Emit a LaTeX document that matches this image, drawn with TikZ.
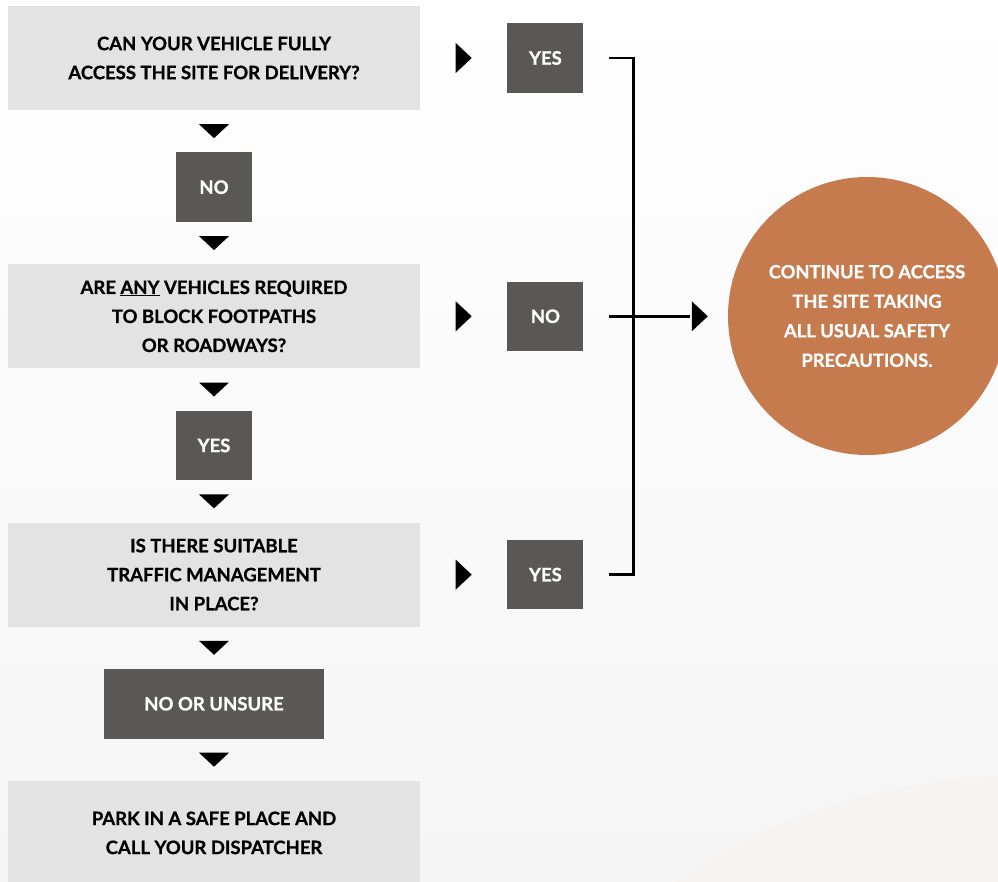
\documentclass[tikz,border=0pt]{standalone}
\usepackage{fontspec}
\setmainfont{Lato}[BoldFeatures={FakeBold=0.8}]
\usetikzlibrary{positioning}
\usetikzlibrary{calc}

\definecolor{qgrey}{HTML}{E3E3E3}
\definecolor{agrey}{HTML}{595857}
\definecolor{rust}{HTML}{C67B4E}
\definecolor{fade}{HTML}{F5F5F5}
\definecolor{sand}{HTML}{F7F3F0}

\tikzset{
  question/.style={rectangle, fill=qgrey, minimum width=412pt, minimum height=104pt,
    align=center, font=\bfseries\fontsize{18.5}{29}\selectfont},
  answer/.style={rectangle, fill=agrey, text=white, minimum width=76pt, minimum height=69.5pt,
    align=center, font=\bfseries\fontsize{18.5}{24}\selectfont},
  downtri/.pic={\fill (-15,-7) -- (15,-7) -- (0,7) -- cycle;},
  righttri/.pic={\fill (-8,-15) -- (-8,15) -- (8,0) -- cycle;},
  link/.style={line width=2.5pt}
}

\begin{document}
\begin{tikzpicture}
        [x=1pt, y=-1pt, node distance=42pt]
        \useasboundingbox (0,0) rectangle (998,882);
        % background
        \shade [top color=white, bottom color=fade] (0,0) rectangle (998,882);
        \fill [sand] (677,882) .. controls (760,820) and (880,782) .. (998,776) -- (998,882) -- cycle;

        % left column
        \node [question] (q1) at (214,58) {CAN YOUR VEHICLE FULLY\\ACCESS THE SITE FOR DELIVERY?};
        \node [answer, below=of q1] (no1) {NO};
        \node [question, below=of no1] (q2) {ARE \underline{ANY} VEHICLES REQUIRED\\TO BLOCK FOOTPATHS\\OR ROADWAYS?};
        \node [answer, below=of q2] (yes2) {YES};
        \node [question, below=of yes2] (q3) {IS THERE SUITABLE\\TRAFFIC MANAGEMENT\\IN PLACE?};
        \node [answer, minimum width=220pt, below=of q3] (unsure) {NO OR UNSURE};
        \node [question, below=of unsure] (q4) {PARK IN A SAFE PLACE AND\\CALL YOUR DISPATCHER};

        \pic at ($(q1.south)!0.5!(no1.north)$) {downtri};
        \pic at ($(no1.south)!0.5!(q2.north)$) {downtri};
        \pic at ($(q2.south)!0.5!(yes2.north)$) {downtri};
        \pic at ($(yes2.south)!0.5!(q3.north)$) {downtri};
        \pic at ($(q3.south)!0.5!(unsure.north)$) {downtri};
        \pic at ($(unsure.south)!0.5!(q4.north)$) {downtri};

        % right column
        \node [answer, right=87pt of q1] (yes1) {YES};
        \node [answer, right=87pt of q2] (no2) {NO};
        \node [answer, right=87pt of q3] (yes3) {YES};
        \pic at ($(q1.east)!0.5!(yes1.west)$) {righttri};
        \pic at ($(q2.east)!0.5!(no2.west)$) {righttri};
        \pic at ($(q3.east)!0.5!(yes3.west)$) {righttri};

        \node [circle, fill=rust, text=white, minimum size=278pt, align=center,
               font=\bfseries\fontsize{18.3}{29.5}\selectfont] (done) at (867,316)
              {CONTINUE TO ACCESS\\THE SITE TAKING\\ALL USUAL SAFETY\\PRECAUTIONS.};

        % bracket
        \coordinate (b1) at ($(yes1.east)+(25,0)$);
        \coordinate (b2) at ($(no2.east)+(25,0)$);
        \coordinate (b3) at ($(yes3.east)+(25,0)$);
        \coordinate (tip) at ([xshift=-38pt]done.west |- b2);
        \draw [link] (b1) -| ($(b3)+(25,0)$) -- (b3);
        \draw [link] (b2) -- (tip);
        \pic at ($(tip)+(10,0)$) {righttri};
\end{tikzpicture}
\end{document}
